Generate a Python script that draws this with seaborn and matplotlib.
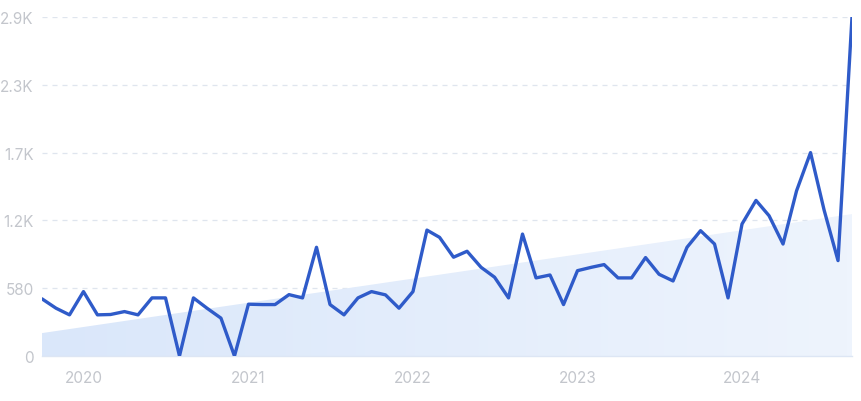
import numpy as np
import pandas as pd
import matplotlib
matplotlib.use("Agg")
import matplotlib.pyplot as plt
import matplotlib.dates as mdates
from matplotlib.colors import LinearSegmentedColormap
from matplotlib.ticker import FixedLocator
import seaborn as sns

# monthly values, Oct 2019 -> Sep 2024
start_month = "2019-10-01"
values = [
    489, 409, 352,
    551, 352, 355, 380, 352, 497, 497, 0, 497, 409, 324, 0,
    443, 440, 440, 525, 497, 930, 440, 352, 497, 551, 523, 409,
    551, 1077, 1015, 845, 896, 759, 674, 497, 1043, 668, 693, 440,
    730, 759, 782, 668, 668, 842, 699, 642, 930, 1072, 958, 497,
    1129, 1331, 1200, 958, 1413, 1740, 1250, 816, 2900,
]
# trend band, value at first and last month
trend_ends = [196, 1214]
y_ticks = [0, 580, 1160, 1740, 2320, 2900]
y_labels = ["0", "580", "1.2K", "1.7K", "2.3K", "2.9K"]

months = pd.date_range(start=start_month, periods=len(values), freq="MS")
df = pd.DataFrame({"month": months, "value": values})

sns.set_style("white")
plt.rcParams["font.family"] = ["Inter", "DejaVu Sans"]

fig = plt.figure(figsize=(8.61, 4.02), dpi=100)
ax = fig.add_axes([42 / 861, 45 / 402, 810 / 861, 339 / 402])

# trend area with a soft horizontal gradient
x0, x1 = mdates.date2num(months[0]), mdates.date2num(months[-1])
band = ax.fill_between([months[0], months[-1]], [0, 0], trend_ends,
                       color="none", lw=0, zorder=1)
cmap = LinearSegmentedColormap.from_list("band", ["#dae7fa", "#eef4fd"])
grad = ax.imshow(np.linspace(0, 1, 256).reshape(1, -1), cmap=cmap,
                 extent=[x0, x1, 0, max(trend_ends)], aspect="auto",
                 zorder=1, interpolation="bicubic")
grad.set_clip_path(band.get_paths()[0], transform=ax.transData)

sns.lineplot(data=df, x="month", y="value", ax=ax, color="#2f5bc9",
             lw=2.4, zorder=3)

ax.set_xlim(months[0], months[-1])
ax.set_ylim(0, 2900)
ax.yaxis.set_major_locator(FixedLocator(y_ticks))
ax.set_yticklabels(y_labels)
ax.xaxis.set_major_locator(mdates.YearLocator())
ax.xaxis.set_major_formatter(mdates.DateFormatter("%Y"))
ax.set_xlabel("")
ax.set_ylabel("")

for y in y_ticks[1:]:
    ax.axhline(y, color="#dfe5ee", lw=0.9, ls=(0, (4, 4)), zorder=0)

for s in ["top", "right", "left"]:
    ax.spines[s].set_visible(False)
ax.spines["bottom"].set_color("#dde6f4")
ax.spines["bottom"].set_linewidth(1.0)

ax.tick_params(axis="both", length=0, labelsize=11, colors="#c3c6cc")
ax.tick_params(axis="y", pad=6)
ax.tick_params(axis="x", pad=10)

fig.savefig("out.png", dpi=100)
